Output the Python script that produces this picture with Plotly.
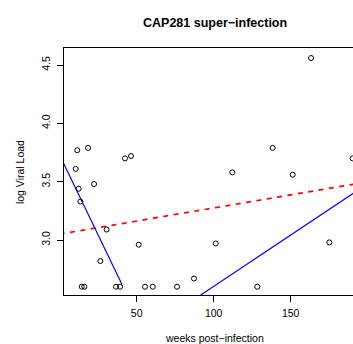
import numpy as np
import plotly.graph_objects as go

# Observed data (weeks post-infection, log viral load)
weeks = [10.4, 11.4, 12.3, 13.4, 14.3, 16.0, 18.4, 22.3, 26.4, 30.5, 36.6, 39.2,
         42.4, 46.3, 51.3, 55.4, 60.4, 76.2, 87.2, 101.3, 112.1, 128.3, 138.3,
         151.3, 163.2, 175.1, 190.2]
log_vl = [3.61, 3.77, 3.44, 3.33, 2.60, 2.60, 3.79, 3.48, 2.82, 3.09, 2.60, 2.60,
          3.70, 3.72, 2.96, 2.60, 2.60, 2.60, 2.67, 2.97, 3.58, 2.60, 3.79,
          3.56, 4.56, 2.98, 3.70]

# Fitted lines (intercept, slope, x-extent)
overall_fit = {"intercept": 3.051, "slope": 0.00224, "x": [0, 200]}
early_fit = {"intercept": 3.728, "slope": -0.0274, "x": [0, 40.3]}
late_fit = {"intercept": 1.723, "slope": 0.0088, "x": [85, 200]}

x_ticks = [50, 100, 150]
y_ticks = [3.0, 3.5, 4.0, 4.5]
y_tick_text = ["3.0", "3.5", "4.0", "4.5"]

FONT = "Liberation Sans, Arial, Helvetica, sans-serif"

fig = go.Figure()

def fit_line(f):
    xs = np.array(f["x"], dtype=float)
    return xs, f["intercept"] + f["slope"] * xs

xs, ys = fit_line(overall_fit)
fig.add_trace(go.Scatter(x=xs, y=ys, mode="lines",
                         line=dict(color="#ff0000", width=1.7, dash="5px,5.5px"),
                         hoverinfo="skip"))
for f in (early_fit, late_fit):
    xs, ys = fit_line(f)
    fig.add_trace(go.Scatter(x=xs, y=ys, mode="lines",
                             line=dict(color="#0000ff", width=1.2),
                             hoverinfo="skip"))

fig.add_trace(go.Scatter(x=weeks, y=log_vl, mode="markers",
                         marker=dict(symbol="circle-open", size=5,
                                     color="black", line=dict(width=1, color="black"))))

fig.update_layout(
    width=353, height=344,
    margin=dict(l=64, r=0, t=48, b=49),
    paper_bgcolor="white", plot_bgcolor="white",
    showlegend=False,
    font=dict(family=FONT, size=10.5, color="black"),
    xaxis=dict(range=[2.79, 190.45], tickvals=x_ticks, ticks="outside",
               ticklen=6, tickwidth=1, tickcolor="black",
               ticklabelstandoff=2,
               showline=True, linecolor="black", linewidth=1, mirror=True,
               showgrid=False, zeroline=False,
               tickfont=dict(size=10.5, family=FONT)),
    yaxis=dict(range=[2.529, 4.646], tickvals=y_ticks, ticktext=y_tick_text,
               ticks="outside", ticklen=6, tickwidth=1, tickcolor="black",
               tickangle=-90, ticklabelstandoff=3,
               showline=True, linecolor="black", linewidth=1,
               showgrid=False, zeroline=False,
               tickfont=dict(size=10.5, family=FONT)),
    annotations=[
        dict(text="<b>CAP281 super\u2212infection</b>", xref="paper", yref="paper",
             x=0.5225, y=1.101, xanchor="center", yanchor="middle",
             showarrow=False, font=dict(size=12.5, family=FONT)),
        dict(text="weeks post\u2212infection", xref="paper", yref="paper",
             x=0.5208, y=-0.174, xanchor="center", yanchor="middle",
             showarrow=False, font=dict(size=10.5, family=FONT)),
        dict(text="log Viral Load", xref="paper", yref="paper",
             x=-0.152, y=0.498, xanchor="center", yanchor="middle",
             textangle=-90, showarrow=False, font=dict(size=10.5, family=FONT)),
    ],
)

fig.write_html("out.html")
